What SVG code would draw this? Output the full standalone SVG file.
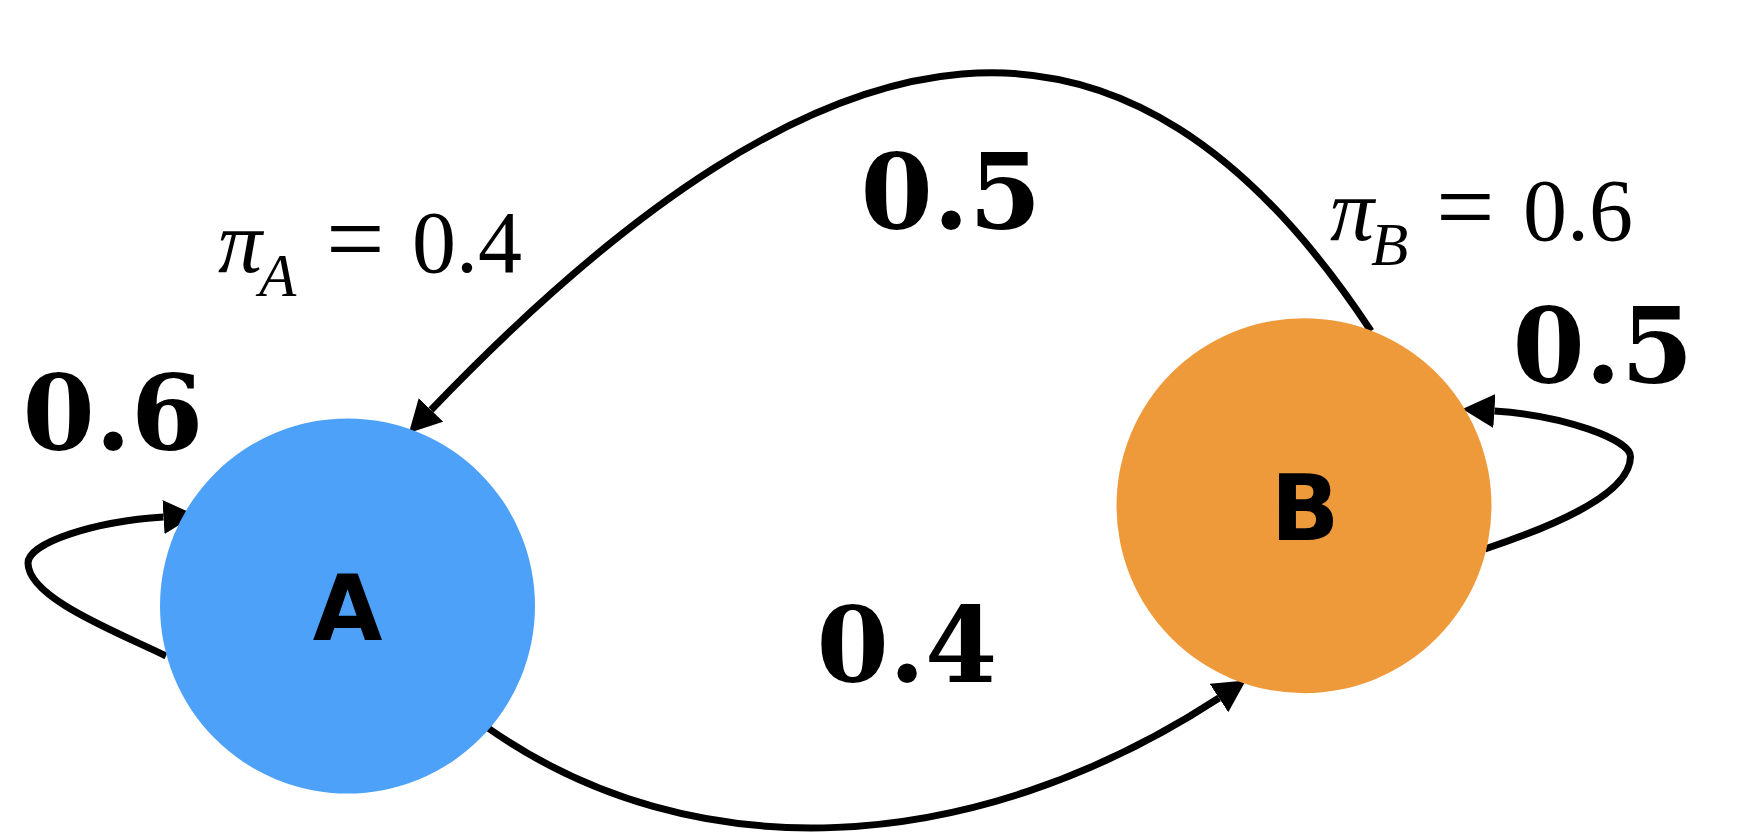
<svg xmlns="http://www.w3.org/2000/svg" width="1756" height="832" viewBox="0 0 1756 832">
  <style>
    .edge { fill: none; stroke: #000; stroke-width: 7; marker-end: url(#arrow); }
    .node-label { font-family: "DejaVu Sans", sans-serif; font-weight: bold; font-size: 90px; text-anchor: middle; fill: #000; }
    .edge-label { font-family: "DejaVu Serif", "Liberation Serif", serif; font-weight: bold; font-size: 104px; text-anchor: middle; fill: #000; font-variant-numeric: oldstyle-nums; }
    .math { font-family: "Liberation Serif", "Times New Roman", serif; font-size: 88px; fill: #000; }
    .it { font-style: italic; }
    .sub { font-style: italic; font-size: 61px; }
    .eq { font-size: 104px; }
  </style>
  <defs>
    <marker id="arrow" markerUnits="userSpaceOnUse" markerWidth="34" markerHeight="36" viewBox="0 0 34 36" refX="0" refY="17" orient="auto">
      <path d="M0,0 L32,17 L0,34 Z" fill="#000"/>
    </marker>
  </defs>
  <rect width="1756" height="832" fill="#fff"/>

  <g id="connectors">
    <path id="edge-A-B" class="edge" d="M488,728 C692,871 970,860 1219,698"/>
    <path id="edge-B-A" class="edge" d="M1371,331 C1128.5,-37 836,-12.4 431,410"/>
    <path id="edge-A-A" class="edge" d="M166,656 C116.5,631.8 28,598 28,563 C28,543 93.7,521.4 163.5,517"/>
    <path id="edge-B-B" class="edge" d="M1485,549 C1542,530 1630.5,496.4 1630.5,456.4 C1630.5,440 1564.3,415.3 1494.4,411"/>
  </g>

  <g id="node-A">
    <circle cx="347.5" cy="606" r="187.5" fill="#4DA1F9"/>
    <text class="node-label" x="347.5" y="640">A</text>
  </g>
  <g id="node-B">
    <circle cx="1304" cy="505.7" r="187.5" fill="#EE9A3A"/>
    <text class="node-label" x="1305" y="540">B</text>
  </g>

  <g id="edge-labels">
    <text class="edge-label" x="113" y="450">0.6</text>
    <text class="edge-label" x="951" y="229">0.5</text>
    <text class="edge-label" x="1603" y="383">0.5</text>
    <text class="edge-label" x="907" y="682">0.4</text>
  </g>

  <g id="stationary-labels">
    <text class="math" y="272"><tspan class="it" x="218">π</tspan><tspan class="sub" x="259" y="296">A</tspan><tspan class="eq" x="326" y="274">=</tspan><tspan x="412" y="272">0.4</tspan></text>
    <text class="math" y="240"><tspan class="it" x="1330">π</tspan><tspan class="sub" x="1371" y="265">B</tspan><tspan class="eq" x="1436" y="242">=</tspan><tspan x="1523" y="240">0.6</tspan></text>
  </g>
</svg>
